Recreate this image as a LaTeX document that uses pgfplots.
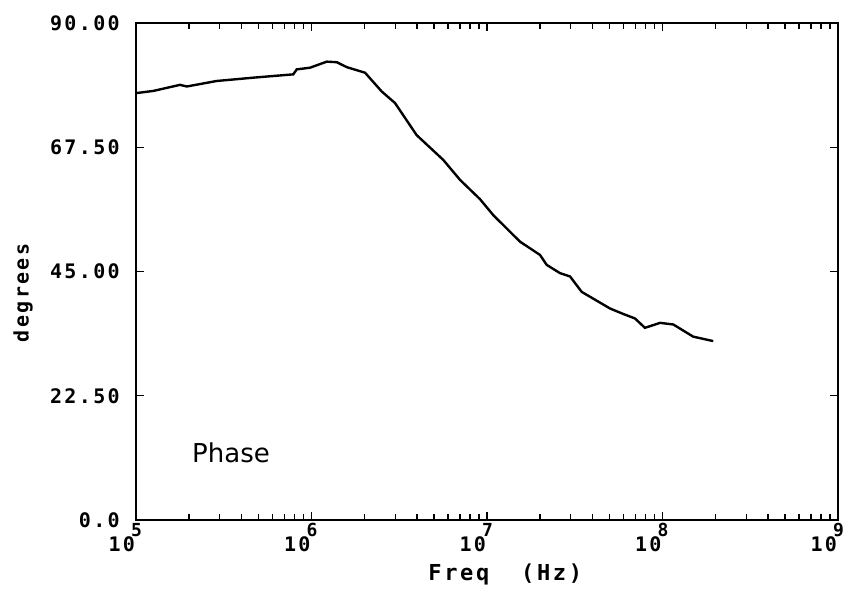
\documentclass[border=0pt]{standalone}
\usepackage{fontspec}
\usepackage{pgfplots}
\pgfplotsset{compat=1.18}
\newfontfamily\tickfont[LetterSpace=12]{DejaVu Sans Mono}
\newfontfamily\supfont{DejaVu Sans Mono}
\newfontfamily\phasefont{DejaVu Sans}
\newcommand\dec[1]{\llap{10\hspace{1bp}}\rlap{\hspace{-5bp}\raisebox{15bp}{\supfont\bfseries\fontsize{18bp}{20bp}\selectfont #1}}}
\begin{document}
\begin{tikzpicture}
\useasboundingbox (-136bp,-70bp) rectangle (708bp,520bp);
\begin{axis}[
  scale only axis, width=702bp, height=497bp,
  xmode=log, xmin=1e5, xmax=1e9, ymin=0, ymax=90,
  xtick={1e5,1e6,1e7,1e8,1e9},
  xticklabels={\dec{5},\dec{6},\dec{7},\dec{8},\dec{9}},
  ytick={0,22.5,45,67.5,90},
  yticklabels={0.0,22.50,45.00,67.50,90.00},
  tick align=inside,
  major tick length=8bp, minor tick length=6bp,
  tick style={black, line width=1.4pt},
  axis line style={line width=1.8pt},
  xticklabel style={font=\tickfont\bfseries\fontsize{20bp}{24bp}\selectfont, anchor=north, inner sep=0pt, yshift=-3bp},
  yticklabel style={font=\tickfont\bfseries\fontsize{20bp}{24bp}\selectfont, anchor=east, inner sep=0pt, xshift=-16bp},
  xlabel={Freq\ \ (Hz)},
  xlabel style={font=\tickfont\bfseries\fontsize{22bp}{26bp}\selectfont, at={(axis description cs:0.526,0)}, anchor=base, inner sep=0pt, yshift=-60bp},
  ylabel={degrees},
  ylabel style={font=\tickfont\bfseries\fontsize{20bp}{24bp}\selectfont, at={(axis description cs:-0.161,0.457)}, anchor=center, inner sep=0pt},
]
\addplot[black, line width=2.4pt] coordinates {
(1e5,77.3) (1.256e5,77.7) (1.782e5,78.8) (1.945e5,78.5) (2.884e5,79.5)
(4.656e5,80.1) (7.870e5,80.7) (8.241e5,81.6) (9.795e5,81.9) (1.222e6,83.0)
(1.393e6,82.9) (1.589e6,82.0) (2.018e6,81.0) (2.512e6,77.6) (2.992e6,75.5)
(3.972e6,69.7) (5.636e6,65.2) (7.015e6,61.6) (9.120e6,58.1) (1.086e7,55.2)
(1.542e7,50.4) (2.004e7,48.0) (2.188e7,46.2) (2.606e7,44.7) (2.972e7,44.1)
(3.467e7,41.3) (5.023e7,38.3) (5.984e7,37.3) (6.966e7,36.5) (7.943e7,34.8)
(9.683e7,35.7) (1.153e8,35.4) (1.496e8,33.2) (1.945e8,32.4)
};
\node[anchor=base west, font=\phasefont\fontsize{26bp}{30bp}\selectfont, inner sep=0pt] at (rel axis cs:0.0798,0.1167) {Phase};
\end{axis}
\end{tikzpicture}
\end{document}
